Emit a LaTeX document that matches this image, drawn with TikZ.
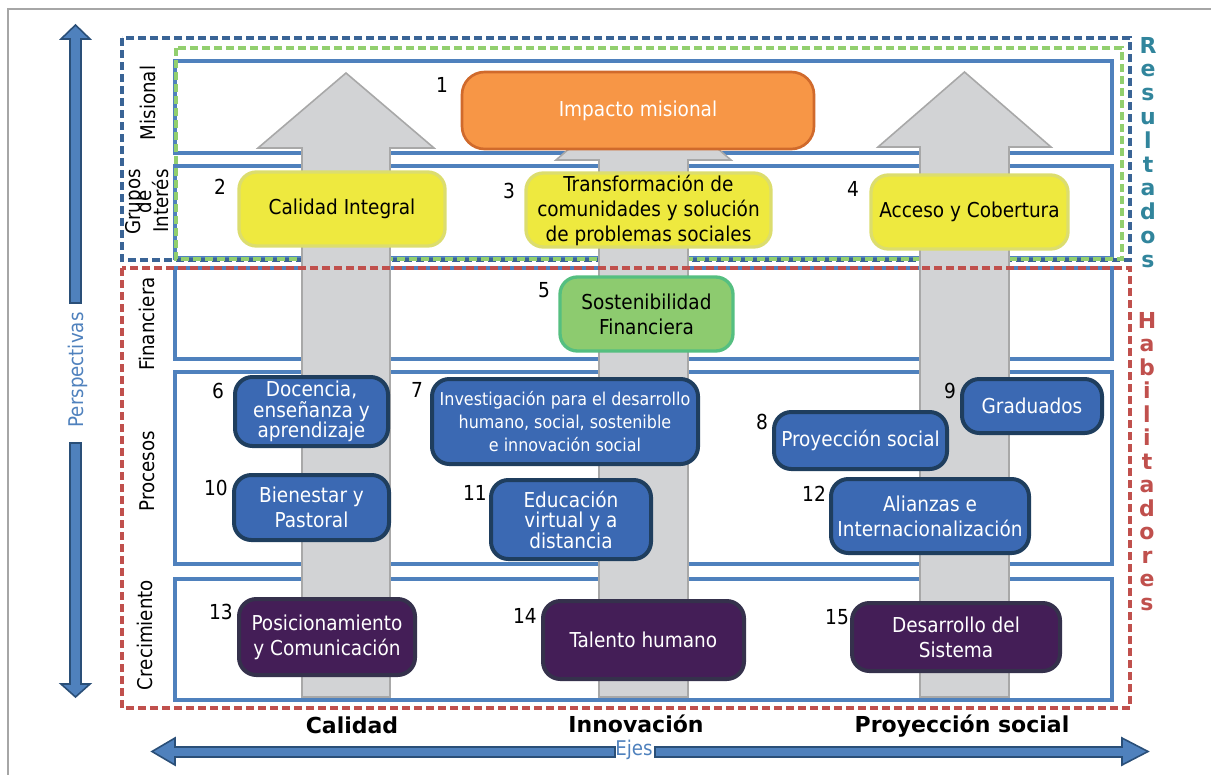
\documentclass[tikz,border=0pt]{standalone}
\usepackage{fontspec}
\setmainfont{DejaVu Sans Condensed}
\newfontfamily\widefont{DejaVu Sans}
\definecolor{rowblue}{HTML}{4F81BD}
\definecolor{resblue}{HTML}{3A6496}
\definecolor{resgreen}{HTML}{92CF6E}
\definecolor{habred}{HTML}{C0504D}
\definecolor{tealc}{HTML}{31859C}
\definecolor{framec}{HTML}{A6A6A6}
\definecolor{axdraw}{HTML}{2A4F78}
\definecolor{orfill}{HTML}{F79646}
\definecolor{ordraw}{HTML}{D06A2C}
\definecolor{yelfill}{HTML}{EEE93F}
\definecolor{yeldraw}{HTML}{DCDD6E}
\definecolor{grnfill}{HTML}{8DCB6F}
\definecolor{grndraw}{HTML}{55BF80}
\definecolor{blufill}{HTML}{3B69B3}
\definecolor{bludraw}{HTML}{1F3E5E}
\definecolor{purfill}{HTML}{441E57}
\definecolor{purdraw}{HTML}{35314C}
\definecolor{arrfill}{HTML}{D2D3D5}
\definecolor{arrdraw}{HTML}{A8A8A8}
\newcommand\fA{\fontsize{15.4pt}{18.75pt}\selectfont}
\newcommand\fB{\fontsize{15.4pt}{15.4pt}\selectfont}
\newcommand\fC{\fontsize{13.3pt}{16.9pt}\selectfont}
\newcommand\fRow{\fontsize{15.2pt}{18pt}\selectfont}
\newcommand\fNum{\fontsize{15.5pt}{18pt}\selectfont}
\newcommand\fAx{\widefont\bfseries\fontsize{16.5pt}{20pt}\selectfont}
\tikzset{
  rowrect/.style={draw=rowblue, line width=3pt},
  dashres/.style={draw=resblue, line width=2.6pt, dash pattern=on 6pt off 3pt},
  dashgrn/.style={draw=resgreen, line width=2.6pt, dash pattern=on 6pt off 3pt},
  dashhab/.style={draw=habred, line width=2.6pt, dash pattern=on 6pt off 3pt},
  box/.style={rounded corners=13pt, align=center, font=\fA, inner sep=0pt},
  orangebox/.style={box, fill=orfill, draw=ordraw, line width=2pt, text=white, rounded corners=17pt},
  yelbox/.style={box, fill=yelfill, draw=yeldraw, line width=2.5pt, text=black},
  grnbox/.style={box, fill=grnfill, draw=grndraw, line width=2.5pt, text=black},
  bluebox/.style={box, fill=blufill, draw=bludraw, line width=3pt, text=white},
  purbox/.style={box, fill=purfill, draw=purdraw, line width=3pt, text=white},
  num/.style={font=\fNum, text=black, inner sep=0pt},
  rowlabel/.style={font=\fRow, rotate=90, anchor=base, inner sep=0pt},
  grayarrow/.style={fill=arrfill, draw=arrdraw, line width=1.2pt, line join=miter},
  axisarrow/.style={fill=rowblue, draw=axdraw, line width=1.2pt},
  axlabel/.style={font=\fAx, anchor=base, inner sep=0pt},
  vletter/.style={font=\widefont\bfseries\fontsize{16.5pt}{20pt}\selectfont, anchor=base, inner sep=0pt}
}
\begin{document}
\begin{tikzpicture}[x=0.75pt,y=-0.75pt]
\useasboundingbox (0,0) rectangle (1211,775);
% frame
\draw[framec, line width=0.8pt] (8,775) -- (8,9) -- (1211,9);
% perspective rows
\draw[rowrect] (175,61) rectangle (1112,153);
\draw[rowrect] (175,166) rectangle (1112,258);
\draw[rowrect] (175,268) rectangle (1112,359);
\draw[rowrect] (175,372) rectangle (1112,564);
\draw[rowrect] (175,579) rectangle (1112,700);
% resultados dashed
\draw[dashres] (122,38) rectangle (1130,260);
\draw[dashgrn] (176,48) rectangle (1122,259);
% gray arrows
\draw[grayarrow] (302,697) -- (302,148) -- (258,148) -- (346,73) -- (434,148) -- (390,148) -- (390,697) -- cycle;
\draw[grayarrow] (599,697) -- (599,160) -- (556,160) -- (643.5,85) -- (731,160) -- (688,160) -- (688,697) -- cycle;
\draw[grayarrow] (920,697) -- (920,147) -- (878,147) -- (964.5,72) -- (1051,147) -- (1009,147) -- (1009,697) -- cycle;
% habilitadores dashed
\draw[dashhab] (122,268) rectangle (1130,708);
% boxes
\node[orangebox, minimum width=264pt, minimum height=57.75pt] (b1) at (638,110.5) {Impacto misional};
\node[yelbox, minimum width=154.5pt, minimum height=55.5pt] (b2) at (342,209) {Calidad Integral};
\node[yelbox, minimum width=183.75pt, minimum height=55.5pt] (b3) at (648.5,210) {Transformación de\\comunidades y solución\\de problemas sociales};
\node[yelbox, minimum width=147.75pt, minimum height=55.5pt] (b4) at (969.5,212) {Acceso y Cobertura};
\node[grnbox, minimum width=129.75pt, minimum height=55.5pt] (b5) at (646.5,314) {Sostenibilidad\\Financiera};
\node[bluebox, font=\fB, minimum width=114.75pt, minimum height=51.75pt] (b6) at (311.5,411.5) {Docencia,\\enseñanza y\\aprendizaje};
\node[bluebox, font=\fC, minimum width=199.5pt, minimum height=63.75pt] (b7) at (565,421.5) {Investigación para el desarrollo\\humano, social, sostenible\\e innovación social};
\node[bluebox, minimum width=129.75pt, minimum height=42.75pt] (b8) at (860.5,440.5) {Proyección social};
\node[bluebox, minimum width=105pt, minimum height=40.5pt] (b9) at (1032,406) {Graduados};
\node[bluebox, minimum width=116.25pt, minimum height=48.75pt] (b10) at (311.5,507.5) {Bienestar y\\Pastoral};
\node[bluebox, font=\fB, minimum width=120pt, minimum height=59.25pt] (b11) at (571,519.5) {Educación\\virtual y a\\distancia};
\node[bluebox, minimum width=148.5pt, minimum height=55.5pt] (b12) at (930,516) {Alianzas e\\Internacionalización};
\node[purbox, minimum width=132pt, minimum height=57pt] (b13) at (327,637) {Posicionamiento\\y Comunicación};
\node[purbox, minimum width=150.75pt, minimum height=58.5pt] (b14) at (643.5,640) {Talento humano};
\node[purbox, minimum width=156pt, minimum height=51pt] (b15) at (956,637) {Desarrollo del\\Sistema};
% numbers
\node[num] (n1) at (442,85) {1};
\node[num] (n2) at (220,187) {2};
\node[num] (n3) at (509,191) {3};
\node[num] (n4) at (853,189) {4};
\node[num] (n5) at (544,290) {5};
\node[num] (n6) at (218,391) {6};
\node[num] (n7) at (417,390) {7};
\node[num] (n8) at (762,422) {8};
\node[num] (n9) at (950,391) {9};
\node[num] (n10) at (216,488) {10};
\node[num] (n11) at (475,493) {11};
\node[num] (n12) at (814,494) {12};
\node[num] (n13) at (221,612) {13};
\node[num] (n14) at (525,616) {14};
\node[num] (n15) at (837,617) {15};
% row labels
\node[rowlabel] (lmis) at (155,103) {Misional};
\node[rowlabel] (lgr1) at (140,202) {Grupos};
\node[rowlabel] (lgr2) at (151,202) {de};
\node[rowlabel] (lgr3) at (168,201) {Interés};
\node[rowlabel] (lfin) at (154,324) {Financiera};
\node[rowlabel] (lpro) at (154,471) {Procesos};
\node[rowlabel] (lcre) at (152,635) {Crecimiento};
% vertical axis
\draw[axisarrow] (70,303) -- (70,39) -- (61,39) -- (75.5,25) -- (90,39) -- (81,39) -- (81,303) -- cycle;
\draw[axisarrow] (70,443) -- (70,684) -- (61,684) -- (75.5,697) -- (90,684) -- (81,684) -- (81,443) -- cycle;
\node[rowlabel, text=rowblue] (lper) at (83,370) {Perspectivas};
% horizontal axis
\draw[axisarrow] (615,747) -- (175,747) -- (175,738) -- (152,751.5) -- (175,765) -- (175,757) -- (615,757) -- cycle;
\draw[axisarrow] (655,747) -- (1122,747) -- (1122,738) -- (1148,751.5) -- (1122,765) -- (1122,757) -- (655,757) -- cycle;
\node[font=\fRow, text=rowblue, inner sep=0pt] (lejes) at (634,750) {Ejes};
% axis labels
\node[axlabel] (acal) at (352,733) {Calidad};
\node[axlabel] (ainn) at (636,732) {Innovación};
\node[axlabel] (apro) at (962,732) {Proyección social};
% vertical words
\foreach \l [count=\i] in {R,e,s,u,l,t,a,d,o,s}
  \node[vletter, text=tealc] (res\i) at (1148,{53+(\i-1)*23.8}) {\l};
\foreach \l [count=\i] in {H,a,b,i,l,i,t,a,d,o,r,e,s}
  \node[vletter, text=habred] (hab\i) at (1147,{328+(\i-1)*23.5}) {\l};
\end{tikzpicture}
\end{document}
